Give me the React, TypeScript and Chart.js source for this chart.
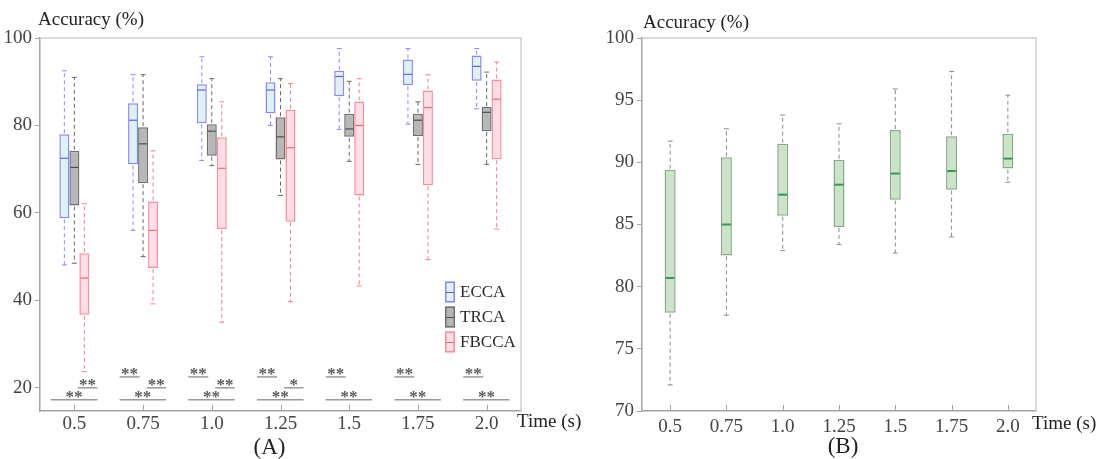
import React, { useEffect, useRef } from 'react';
import { Chart, registerables } from 'chart.js';
Chart.register(...registerables);

const TIMES = ['0.5', '0.75', '1.0', '1.25', '1.5', '1.75', '2.0'];

// Panel A — box statistics per method
const ECCA_MIN = [48.1, 56.0, 72.0, 80.0, 79.1, 80.3, 83.8];
const ECCA_Q1 = [58.8, 71.1, 80.5, 82.8, 86.7, 89.2, 90.2];
const ECCA_MED = [72.5, 81.2, 88.1, 88.1, 91.2, 91.7, 93.5];
const ECCA_Q3 = [78.0, 85.1, 89.4, 89.9, 92.5, 95.1, 96.0];
const ECCA_MAX = [92.5, 91.6, 95.7, 95.7, 97.6, 97.6, 97.6];

const TRCA_MIN = [48.5, 50.0, 70.8, 64.0, 71.8, 71.1, 71.1];
const TRCA_Q1 = [61.7, 66.8, 73.1, 72.2, 77.4, 77.6, 78.7];
const TRCA_MED = [70.4, 75.8, 78.7, 77.4, 79.2, 81.2, 83.0];
const TRCA_Q3 = [74.2, 79.6, 80.3, 81.9, 82.7, 82.7, 84.2];
const TRCA_MAX = [91.0, 91.6, 90.7, 90.7, 90.1, 85.4, 92.2];

const FBCCA_MIN = [23.7, 39.2, 35.0, 39.7, 43.3, 49.3, 56.3];
const FBCCA_Q1 = [36.7, 47.4, 56.3, 58.0, 64.0, 66.3, 72.3];
const FBCCA_MED = [45.1, 56.0, 70.2, 74.9, 80.0, 84.1, 86.0];
const FBCCA_Q3 = [50.8, 62.6, 77.3, 83.6, 85.5, 88.0, 90.5];
const FBCCA_MAX = [62.1, 74.2, 85.4, 89.6, 90.7, 91.6, 94.5];

// Panel B — box statistics
const B_MIN = [72.1, 77.7, 82.9, 83.4, 82.7, 84.0, 88.4];
const B_Q1 = [77.9, 82.5, 85.7, 84.8, 87.0, 87.8, 89.5];
const B_MED = [80.7, 85.0, 87.4, 88.2, 89.1, 89.3, 90.3];
const B_Q3 = [89.4, 90.4, 91.5, 90.2, 92.6, 92.1, 92.3];
const B_MAX = [91.7, 92.7, 93.8, 93.1, 95.9, 97.3, 95.4];

// Significance marks (panel A)
const SIG_ECCA_TRCA = ['', '**', '**', '**', '**', '**', '**'];
const SIG_TRCA_FBCCA = ['**', '**', '**', '*', '', '', ''];
const SIG_ECCA_FBCCA = ['**', '**', '**', '**', '**', '**', '**'];
const SIG_LEVELS = [22.5, 20.0, 17.3];

const Y_TICKS_A = [20, 40, 60, 80, 100];
const Y_TICKS_B = [70, 75, 80, 85, 90, 95, 100];

const FONT = "'Liberation Serif', 'Times New Roman', serif";
const AXIS = '#a3a3a3';
const FRAME = '#cfcfcf';

const SERIES_A = [
  { label: 'ECCA', q1: ECCA_Q1, q3: ECCA_Q3, min: ECCA_MIN, med: ECCA_MED, max: ECCA_MAX,
    fill: 'rgb(222,242,242)', border: 'rgb(135,135,255)', whisker: 'rgb(140,140,255)', median: 'rgb(95,95,245)' },
  { label: 'TRCA', q1: TRCA_Q1, q3: TRCA_Q3, min: TRCA_MIN, med: TRCA_MED, max: TRCA_MAX,
    fill: 'rgb(183,183,183)', border: 'rgb(112,112,112)', whisker: 'rgb(105,105,105)', median: 'rgb(80,80,80)' },
  { label: 'FBCCA', q1: FBCCA_Q1, q3: FBCCA_Q3, min: FBCCA_MIN, med: FBCCA_MED, max: FBCCA_MAX,
    fill: 'rgb(255,222,234)', border: 'rgb(255,140,150)', whisker: 'rgb(255,125,135)', median: 'rgb(240,105,115)' },
];

const SERIES_B = [
  { label: 'B', q1: B_Q1, q3: B_Q3, min: B_MIN, med: B_MED, max: B_MAX,
    fill: 'rgb(201,229,197)', border: 'rgb(140,168,140)', whisker: 'rgb(140,140,140)', median: 'rgb(55,150,90)' },
];

function boxPlugin(series: any[], medianWidth: number) {
  return {
    id: 'boxExtras',
    afterDatasetsDraw(chart: any) {
      const ctx = chart.ctx;
      const y = chart.scales.y;
      series.forEach((s, i) => {
        const meta = chart.getDatasetMeta(i);
        meta.data.forEach((el: any, j: number) => {
          const x = el.x;
          const w = el.width;
          const pMin = y.getPixelForValue(s.min[j]);
          const pQ1 = y.getPixelForValue(s.q1[j]);
          const pMed = y.getPixelForValue(s.med[j]);
          const pQ3 = y.getPixelForValue(s.q3[j]);
          const pMax = y.getPixelForValue(s.max[j]);
          ctx.save();
          ctx.strokeStyle = s.whisker;
          ctx.lineWidth = 1;
          ctx.setLineDash([4, 3]);
          ctx.beginPath();
          ctx.moveTo(x, pQ3 - 1);
          ctx.lineTo(x, pMax);
          ctx.moveTo(x, pQ1 + 1);
          ctx.lineTo(x, pMin);
          ctx.stroke();
          ctx.setLineDash([]);
          ctx.beginPath();
          ctx.moveTo(x - 2.5, pMax);
          ctx.lineTo(x + 2.5, pMax);
          ctx.moveTo(x - 2.5, pMin);
          ctx.lineTo(x + 2.5, pMin);
          ctx.stroke();
          ctx.strokeStyle = s.median;
          ctx.lineWidth = medianWidth;
          ctx.beginPath();
          ctx.moveTo(x - w / 2 + 1, pMed);
          ctx.lineTo(x + w / 2 - 1, pMed);
          ctx.stroke();
          ctx.restore();
        });
      });
    },
  };
}

function decorPlugin(o: any) {
  return {
    id: 'decor',
    afterDraw(chart: any) {
      const { ctx, chartArea: ca } = chart;
      const xs = chart.scales.x;
      ctx.save();
      // top/right frame
      ctx.strokeStyle = FRAME;
      ctx.lineWidth = 1.5;
      ctx.beginPath();
      ctx.moveTo(ca.left, ca.top);
      ctx.lineTo(ca.right, ca.top);
      ctx.lineTo(ca.right, ca.bottom);
      ctx.stroke();
      // inward x ticks
      ctx.strokeStyle = AXIS;
      ctx.lineWidth = 1;
      TIMES.forEach((_, i) => {
        const px = Math.round(xs.getPixelForValue(i)) + 0.5;
        ctx.beginPath();
        ctx.moveTo(px, ca.bottom);
        ctx.lineTo(px, ca.bottom - 6);
        ctx.stroke();
      });
      // texts
      ctx.fillStyle = '#222';
      ctx.font = `19px ${FONT}`;
      ctx.textBaseline = 'middle';
      ctx.textAlign = 'left';
      ctx.fillText('Accuracy (%)', ca.left + o.yTitleDx, ca.top + o.yTitleDy);
      ctx.fillText('Time (s)', ca.right - 4, ca.bottom + o.xTitleDy);
      ctx.font = `23px ${FONT}`;
      ctx.textAlign = 'center';
      ctx.fillText(o.panel, (ca.left + ca.right) / 2 + o.panelDx, ca.bottom + o.panelDy);

      // legend
      if (o.legend) {
        const ix = ca.right - 76;
        series_legend(ctx, ix, ca.bottom - 119);
      }
      ctx.restore();

      function series_legend(c: any, ix: number, y0: number) {
        SERIES_A.forEach((s, k) => {
          const cy = y0 + k * 25;
          c.fillStyle = s.fill;
          c.fillRect(ix, cy - 10.5, 10, 21);
          c.strokeStyle = s.border;
          c.lineWidth = 1.5;
          c.strokeRect(ix + 0.75, cy - 9.75, 8.5, 19.5);
          c.strokeStyle = s.median;
          c.lineWidth = 1;
          c.beginPath();
          c.moveTo(ix + 1, cy + 0.5);
          c.lineTo(ix + 9, cy + 0.5);
          c.stroke();
          c.fillStyle = '#2a2a2a';
          c.font = `17px ${FONT}`;
          c.textAlign = 'left';
          c.textBaseline = 'middle';
          c.fillText(s.label, ix + 15, cy + 1);
        });
      }
    },
  };
}

const sigPlugin = {
  id: 'sig',
  afterDatasetsDraw(chart: any) {
    const ctx = chart.ctx;
    const xs = chart.scales.x;
    const ys = chart.scales.y;
    const meta = chart.getDatasetMeta(0);
    const groups = [
      { marks: SIG_ECCA_TRCA, level: SIG_LEVELS[0], a: -2.35, b: -0.35 },
      { marks: SIG_TRCA_FBCCA, level: SIG_LEVELS[1], a: 0.35, b: 2.3 },
      { marks: SIG_ECCA_FBCCA, level: SIG_LEVELS[2], a: -2.35, b: 2.3 },
    ];
    ctx.save();
    TIMES.forEach((_, j) => {
      const cx = xs.getPixelForValue(j);
      const bw = meta.data[j].width;
      groups.forEach((g) => {
        if (!g.marks[j]) return;
        const py = ys.getPixelForValue(g.level);
        const x1 = cx + g.a * bw;
        const x2 = cx + g.b * bw;
        ctx.strokeStyle = '#9a9a9a';
        ctx.lineWidth = 1.5;
        ctx.beginPath();
        ctx.moveTo(x1, py);
        ctx.lineTo(x2, py);
        ctx.stroke();
        ctx.fillStyle = '#5a5a5a';
        ctx.font = `bold 17px ${FONT}`;
        ctx.textAlign = 'center';
        ctx.textBaseline = 'alphabetic';
        ctx.fillText(g.marks[j], (x1 + x2) / 2, py + 2);
      });
    });
    ctx.restore();
  },
};

function buildConfig(series: any[], catPct: number, yMin: number, yMax: number, yTicks: number[],
  yWidth: number, padRight: number, xPad: number, plugins: any[]) {
  return {
    type: 'bar' as const,
    data: {
      labels: TIMES,
      datasets: series.map((s) => ({
        label: s.label,
        data: TIMES.map((_, i) => [s.q1[i], s.q3[i]]),
        backgroundColor: s.fill,
        borderColor: s.border,
        borderWidth: 1.5,
        borderSkipped: false,
        categoryPercentage: catPct,
        barPercentage: 1,
      })),
    },
    options: {
      responsive: false,
      animation: false,
      devicePixelRatio: 1,
      layout: { padding: { top: 38, right: padRight, left: 0, bottom: 0 } },
      plugins: { legend: { display: false }, tooltip: { enabled: false }, title: { display: false } },
      scales: {
        x: {
          type: 'category',
          offset: true,
          grid: { display: false, drawTicks: false },
          border: { display: true, color: AXIS, width: 1.5 },
          ticks: { color: '#444', font: { family: FONT, size: 19 }, padding: xPad, maxRotation: 0 },
          afterFit: (s: any) => { s.height = 48; },
        },
        y: {
          min: yMin,
          max: yMax,
          grid: { display: true, drawOnChartArea: false, drawTicks: true, tickLength: 5, color: AXIS },
          border: { display: true, color: AXIS, width: 1.5 },
          ticks: { color: '#444', font: { family: FONT, size: 19 }, padding: 3 },
          afterBuildTicks: (s: any) => { s.ticks = yTicks.map((v) => ({ value: v })); },
          afterFit: (s: any) => { s.width = yWidth; },
        },
      },
    },
    plugins,
  };
}

export default function App() {
  const refA = useRef<HTMLCanvasElement>(null);
  const refB = useRef<HTMLCanvasElement>(null);

  useEffect(() => {
    const cA = new Chart(refA.current!, buildConfig(SERIES_A, 30 / 68.7, 14.7, 100, Y_TICKS_A, 40, 79, 2, [
      boxPlugin(SERIES_A, 1.2),
      sigPlugin,
      decorPlugin({ yTitleDx: -2, yTitleDy: -18, xTitleDy: 11, panel: '(A)', panelDx: -11, panelDy: 37, legend: true }),
    ]) as any);
    const cB = new Chart(refB.current!, buildConfig(SERIES_B, 11 / 56.3, 70, 100, Y_TICKS_B, 52, 65, 5, [
      boxPlugin(SERIES_B, 2),
      decorPlugin({ yTitleDx: 1, yTitleDy: -15, xTitleDy: 13, panel: '(B)', panelDx: 4, panelDy: 36, legend: false }),
    ]) as any);
    return () => { cA.destroy(); cB.destroy(); };
  }, []);

  return (
    <div style={{ position: 'fixed', left: 0, top: 0, width: 1101, height: 459, background: '#fff', overflow: 'hidden' }}>
      <canvas ref={refA} width={600} height={459} style={{ position: 'absolute', left: 0, top: 0, width: 600, height: 459 }} />
      <canvas ref={refB} width={511} height={459} style={{ position: 'absolute', left: 590, top: 0, width: 511, height: 459 }} />
    </div>
  );
}
